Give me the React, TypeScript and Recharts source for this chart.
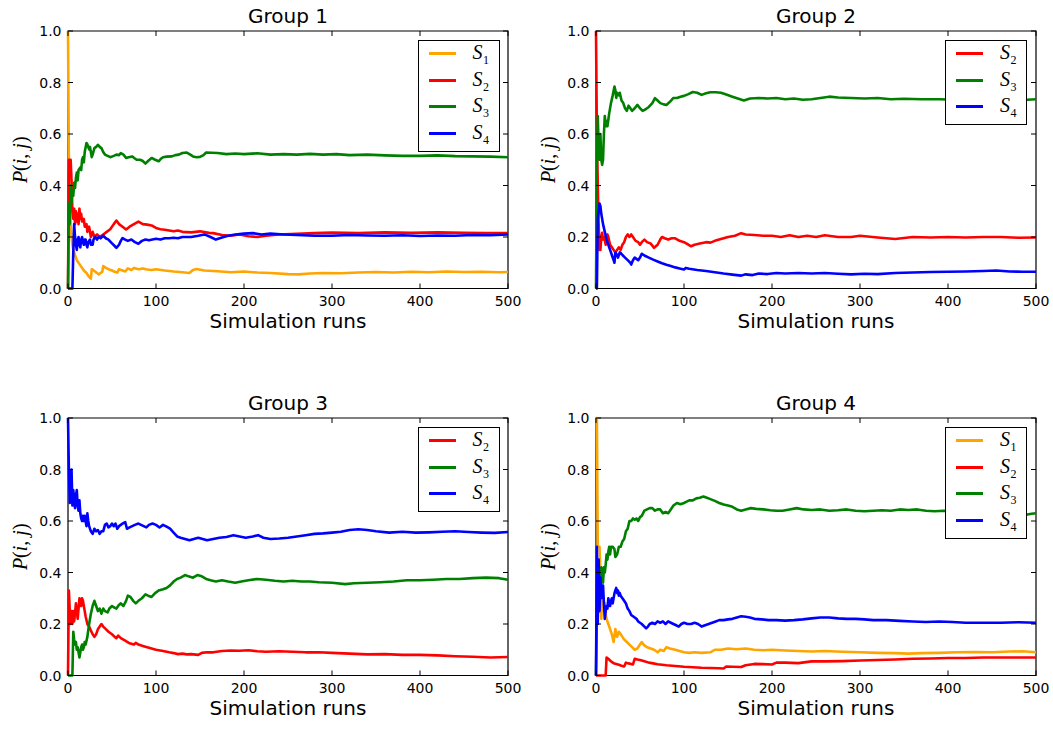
import { Label, Legend, Line, LineChart, ReferenceArea, XAxis, YAxis } from "recharts";

type Pt = [number, number];

const xTicks = [0, 100, 200, 300, 400, 500];
const yTicks = [0, 0.2, 0.4, 0.6, 0.8, 1.0];
const groupTitles = ["Group 1", "Group 2", "Group 3", "Group 4"];
const xLabel = "Simulation runs";

// Group 1
const g1S1: Pt[] = [[0,1.0],[1,0.5],[2,0.33],[3,0.25],[4,0.2],[5,0.17],[6,0.15],[8,0.13],[10,0.11],[12,0.1],[15,0.085],[18,0.07],[21,0.06],[24,0.045],[26,0.038],[27,0.075],[30,0.068],[33,0.06],[35,0.055],[37,0.06],[39,0.065],[40,0.087],[43,0.08],[46,0.075],[50,0.07],[53,0.065],[56,0.062],[58,0.075],[62,0.07],[65,0.066],[68,0.078],[72,0.072],[75,0.08],[80,0.075],[85,0.078],[90,0.074],[95,0.072],[100,0.075],[110,0.07],[120,0.066],[130,0.063],[138,0.06],[142,0.072],[146,0.076],[155,0.07],[170,0.067],[185,0.063],[200,0.066],[215,0.062],[230,0.06],[250,0.056],[262,0.055],[275,0.058],[290,0.06],[310,0.059],[330,0.062],[350,0.064],[370,0.062],[390,0.065],[410,0.063],[430,0.066],[450,0.064],[470,0.065],[490,0.063],[500,0.064]];
const g1S2: Pt[] = [[0,0],[1,0.5],[3,0.5],[4,0.42],[5,0.3],[6,0.27],[7,0.31],[8,0.25],[9,0.3],[10,0.26],[11,0.29],[12,0.25],[13,0.31],[14,0.27],[15,0.29],[16,0.26],[18,0.27],[19,0.24],[21,0.25],[22,0.22],[24,0.24],[26,0.2],[28,0.22],[30,0.2],[33,0.21],[36,0.2],[40,0.21],[44,0.22],[48,0.23],[52,0.25],[55,0.264],[58,0.25],[62,0.24],[66,0.229],[70,0.24],[75,0.25],[80,0.26],[85,0.25],[90,0.248],[95,0.245],[100,0.235],[105,0.23],[110,0.228],[115,0.225],[120,0.222],[125,0.225],[130,0.22],[140,0.218],[150,0.222],[160,0.216],[165,0.215],[175,0.208],[185,0.205],[195,0.21],[205,0.203],[215,0.2],[225,0.205],[240,0.21],[260,0.212],[280,0.215],[300,0.217],[330,0.215],[360,0.218],[390,0.216],[420,0.218],[450,0.216],[475,0.215],[500,0.215]];
const g1S3: Pt[] = [[0,0],[1,0.33],[2,0.25],[3,0.4],[4,0.33],[5,0.38],[6,0.36],[7,0.41],[8,0.39],[9,0.43],[10,0.45],[11,0.42],[12,0.46],[14,0.47],[15,0.46],[16,0.5],[17,0.51],[18,0.49],[19,0.53],[21,0.565],[22,0.56],[24,0.54],[25,0.55],[27,0.51],[28,0.52],[30,0.545],[32,0.55],[34,0.558],[36,0.55],[38,0.545],[40,0.53],[42,0.52],[45,0.515],[48,0.51],[52,0.515],[55,0.52],[58,0.518],[60,0.526],[63,0.52],[66,0.507],[69,0.51],[73,0.513],[76,0.505],[78,0.5],[82,0.5],[85,0.495],[88,0.485],[91,0.495],[95,0.507],[99,0.5],[103,0.494],[106,0.505],[108,0.51],[112,0.512],[118,0.513],[122,0.518],[126,0.52],[130,0.526],[135,0.528],[139,0.52],[142,0.513],[146,0.51],[150,0.511],[154,0.518],[157,0.528],[163,0.527],[170,0.526],[180,0.522],[190,0.524],[200,0.522],[215,0.525],[230,0.52],[245,0.522],[260,0.52],[275,0.523],[290,0.52],[305,0.522],[320,0.518],[340,0.52],[360,0.517],[380,0.515],[400,0.515],[420,0.517],[440,0.514],[460,0.513],[480,0.512],[500,0.51]];
const g1S4: Pt[] = [[0,0],[5,0],[6,0.14],[7,0.25],[8,0.2],[9,0.17],[10,0.15],[11,0.19],[12,0.2],[13,0.17],[14,0.16],[15,0.19],[16,0.2],[17,0.18],[18,0.17],[19,0.19],[20,0.19],[21,0.17],[22,0.16],[23,0.18],[25,0.19],[26,0.17],[28,0.17],[29,0.19],[31,0.2],[33,0.19],[35,0.2],[37,0.195],[40,0.205],[43,0.195],[46,0.19],[50,0.175],[53,0.165],[55,0.158],[58,0.17],[60,0.185],[62,0.196],[65,0.19],[68,0.185],[72,0.19],[76,0.18],[80,0.174],[84,0.185],[88,0.19],[92,0.187],[96,0.19],[100,0.193],[105,0.19],[110,0.195],[115,0.195],[120,0.197],[125,0.195],[130,0.2],[140,0.2],[148,0.205],[155,0.21],[162,0.2],[168,0.19],[175,0.198],[182,0.205],[190,0.21],[200,0.213],[210,0.215],[220,0.21],[230,0.213],[245,0.21],[260,0.208],[280,0.205],[300,0.205],[320,0.208],[340,0.206],[360,0.205],[380,0.207],[400,0.204],[420,0.206],[440,0.205],[460,0.208],[480,0.207],[500,0.21]];

// Group 2
const g2S2: Pt[] = [[0,1.0],[1,0.6],[2,0.4],[3,0.25],[4,0.15],[5,0.15],[6,0.2],[7,0.216],[8,0.19],[9,0.2],[10,0.19],[11,0.17],[12,0.18],[13,0.21],[14,0.2],[16,0.17],[18,0.16],[20,0.15],[22,0.14],[24,0.15],[26,0.16],[28,0.15],[30,0.17],[32,0.18],[34,0.2],[36,0.21],[38,0.2],[40,0.21],[42,0.2],[45,0.185],[48,0.18],[50,0.17],[52,0.18],[55,0.19],[58,0.18],[62,0.175],[66,0.158],[70,0.17],[73,0.19],[75,0.2],[78,0.195],[82,0.19],[86,0.195],[90,0.195],[95,0.185],[100,0.18],[104,0.172],[108,0.164],[112,0.17],[118,0.175],[125,0.18],[130,0.178],[135,0.185],[140,0.19],[150,0.2],[158,0.205],[165,0.215],[170,0.21],[180,0.208],[190,0.205],[200,0.205],[210,0.2],[220,0.207],[230,0.2],[240,0.205],[250,0.2],[260,0.207],[275,0.2],[290,0.2],[300,0.205],[320,0.198],[340,0.192],[360,0.2],[380,0.198],[400,0.2],[420,0.198],[440,0.2],[460,0.2],[480,0.197],[500,0.198]];
const g2S3: Pt[] = [[0,0],[1,0.5],[2,0.67],[3,0.55],[4,0.5],[5,0.6],[6,0.5],[7,0.48],[8,0.5],[9,0.6],[10,0.67],[11,0.63],[12,0.65],[13,0.63],[15,0.68],[17,0.72],[19,0.75],[21,0.784],[22,0.77],[23,0.74],[24,0.76],[26,0.75],[27,0.76],[29,0.73],[31,0.72],[33,0.7],[35,0.69],[37,0.71],[39,0.7],[41,0.69],[44,0.7],[47,0.713],[50,0.7],[53,0.69],[56,0.695],[60,0.705],[64,0.72],[67,0.739],[70,0.73],[73,0.72],[77,0.715],[80,0.713],[84,0.725],[88,0.74],[92,0.74],[96,0.745],[100,0.748],[105,0.755],[110,0.763],[115,0.76],[120,0.752],[125,0.758],[130,0.762],[136,0.762],[142,0.76],[148,0.753],[155,0.745],[162,0.737],[168,0.73],[175,0.738],[185,0.74],[195,0.738],[205,0.74],[215,0.735],[225,0.738],[235,0.733],[245,0.735],[255,0.74],[265,0.745],[275,0.742],[290,0.74],[305,0.738],[320,0.74],[335,0.735],[350,0.737],[370,0.735],[390,0.735],[410,0.733],[430,0.735],[450,0.733],[470,0.735],[490,0.733],[500,0.735]];
const g2S4: Pt[] = [[0,0],[1,0],[2,0.27],[3,0.3],[4,0.33],[5,0.32],[6,0.29],[8,0.25],[10,0.22],[12,0.19],[14,0.17],[16,0.15],[18,0.13],[20,0.11],[21,0.1],[22,0.14],[24,0.13],[25,0.12],[27,0.14],[28,0.138],[30,0.13],[33,0.12],[36,0.11],[39,0.1],[40,0.093],[42,0.11],[44,0.12],[46,0.115],[48,0.11],[50,0.12],[52,0.135],[55,0.128],[60,0.12],[65,0.112],[70,0.105],[75,0.098],[80,0.092],[85,0.087],[90,0.082],[95,0.078],[100,0.074],[102,0.08],[106,0.077],[115,0.072],[125,0.068],[135,0.063],[145,0.058],[155,0.054],[165,0.05],[170,0.055],[178,0.052],[185,0.058],[195,0.056],[205,0.06],[215,0.058],[230,0.06],[245,0.058],[260,0.06],[275,0.057],[290,0.055],[305,0.057],[320,0.056],[340,0.06],[360,0.062],[380,0.064],[400,0.065],[420,0.066],[440,0.068],[455,0.07],[470,0.066],[485,0.065],[500,0.065]];

// Group 3
const g3S2: Pt[] = [[0,0],[1,0.33],[2,0.25],[3,0.2],[4,0.25],[5,0.2],[6,0.25],[7,0.21],[8,0.24],[9,0.28],[10,0.25],[11,0.22],[12,0.26],[13,0.3],[14,0.28],[15,0.27],[16,0.3],[17,0.29],[18,0.27],[19,0.25],[20,0.23],[22,0.2],[24,0.19],[26,0.175],[28,0.16],[30,0.15],[32,0.16],[34,0.18],[36,0.19],[38,0.2],[40,0.19],[43,0.18],[46,0.17],[50,0.16],[53,0.15],[55,0.145],[57,0.155],[60,0.145],[65,0.135],[70,0.125],[75,0.12],[77,0.127],[80,0.12],[85,0.115],[90,0.11],[95,0.105],[100,0.1],[108,0.095],[115,0.09],[120,0.087],[125,0.083],[130,0.085],[135,0.082],[140,0.083],[148,0.08],[152,0.088],[158,0.09],[165,0.09],[175,0.095],[185,0.097],[195,0.096],[205,0.098],[215,0.094],[225,0.092],[240,0.094],[255,0.092],[270,0.09],[285,0.09],[300,0.088],[320,0.085],[340,0.082],[360,0.083],[380,0.08],[400,0.08],[420,0.078],[440,0.075],[460,0.073],[480,0.07],[500,0.072]];
const g3S3: Pt[] = [[0,0],[5,0],[6,0.17],[7,0.14],[8,0.12],[9,0.13],[10,0.1],[11,0.11],[12,0.09],[13,0.07],[14,0.09],[15,0.11],[16,0.12],[17,0.1],[18,0.11],[19,0.13],[20,0.12],[22,0.15],[24,0.2],[26,0.24],[28,0.27],[30,0.29],[32,0.27],[34,0.25],[36,0.26],[38,0.24],[40,0.26],[42,0.25],[45,0.245],[47,0.26],[50,0.27],[52,0.265],[55,0.26],[58,0.275],[60,0.28],[63,0.27],[66,0.29],[68,0.31],[71,0.305],[74,0.29],[77,0.28],[80,0.29],[84,0.3],[88,0.315],[91,0.31],[95,0.305],[99,0.32],[103,0.33],[108,0.335],[112,0.34],[116,0.35],[120,0.365],[124,0.375],[128,0.38],[133,0.39],[137,0.385],[142,0.38],[147,0.39],[152,0.385],[157,0.375],[162,0.37],[168,0.365],[175,0.37],[182,0.365],[190,0.36],[197,0.365],[205,0.37],[215,0.375],[225,0.372],[235,0.368],[245,0.365],[255,0.368],[265,0.365],[275,0.365],[285,0.362],[300,0.36],[315,0.355],[325,0.358],[340,0.36],[355,0.362],[370,0.365],[385,0.37],[400,0.37],[415,0.372],[430,0.375],[445,0.375],[460,0.378],[475,0.38],[490,0.378],[500,0.372]];
const g3S4: Pt[] = [[0,1.0],[1,0.8],[2,0.67],[3,0.75],[4,0.8],[5,0.66],[6,0.72],[7,0.68],[8,0.65],[9,0.7],[10,0.72],[11,0.66],[12,0.64],[13,0.68],[14,0.63],[15,0.61],[16,0.6],[17,0.62],[18,0.6],[19,0.62],[20,0.6],[21,0.58],[22,0.63],[23,0.6],[24,0.58],[26,0.56],[28,0.55],[30,0.57],[32,0.56],[34,0.565],[36,0.55],[38,0.56],[40,0.56],[42,0.585],[44,0.59],[46,0.575],[48,0.58],[50,0.59],[52,0.58],[54,0.59],[56,0.57],[58,0.58],[60,0.585],[62,0.59],[65,0.596],[67,0.57],[70,0.575],[73,0.58],[76,0.585],[80,0.59],[83,0.585],[86,0.58],[89,0.575],[92,0.585],[96,0.59],[100,0.585],[104,0.575],[108,0.585],[112,0.578],[116,0.57],[120,0.555],[124,0.54],[128,0.535],[133,0.53],[138,0.525],[143,0.53],[148,0.535],[153,0.53],[158,0.525],[165,0.53],[172,0.535],[180,0.538],[188,0.545],[195,0.54],[202,0.535],[210,0.54],[216,0.545],[222,0.535],[230,0.53],[240,0.532],[250,0.535],[260,0.54],[270,0.545],[280,0.55],[290,0.552],[300,0.555],[310,0.558],[320,0.565],[330,0.568],[340,0.565],[350,0.56],[365,0.555],[380,0.558],[395,0.555],[410,0.556],[425,0.558],[440,0.56],[455,0.557],[470,0.555],[485,0.554],[500,0.557]];

// Group 4
const g4S1: Pt[] = [[0,1.0],[1,1.0],[2,0.5],[4,0.5],[5,0.4],[6,0.22],[7,0.3],[8,0.27],[9,0.25],[10,0.28],[11,0.24],[12,0.22],[14,0.2],[16,0.18],[18,0.16],[20,0.13],[22,0.18],[24,0.15],[26,0.17],[28,0.16],[30,0.15],[32,0.14],[35,0.13],[38,0.12],[41,0.11],[44,0.1],[47,0.105],[50,0.12],[52,0.13],[54,0.12],[58,0.11],[62,0.105],[66,0.1],[70,0.09],[73,0.1],[77,0.095],[80,0.11],[84,0.105],[90,0.1],[95,0.095],[100,0.09],[106,0.088],[112,0.09],[120,0.088],[130,0.09],[135,0.1],[142,0.1],[150,0.105],[160,0.102],[170,0.105],[180,0.1],[190,0.098],[200,0.1],[215,0.097],[230,0.095],[245,0.093],[260,0.095],[280,0.092],[300,0.09],[320,0.088],[340,0.087],[355,0.085],[370,0.087],[390,0.088],[410,0.09],[430,0.091],[450,0.09],[470,0.093],[485,0.094],[500,0.09]];
const g4S2: Pt[] = [[0,0],[11,0],[12,0.07],[14,0.065],[17,0.055],[20,0.048],[23,0.045],[26,0.042],[29,0.038],[32,0.035],[34,0.05],[37,0.047],[40,0.045],[42,0.043],[44,0.065],[47,0.062],[50,0.06],[55,0.055],[60,0.05],[65,0.047],[70,0.044],[80,0.04],[90,0.037],[100,0.034],[110,0.032],[120,0.03],[130,0.029],[140,0.028],[145,0.027],[148,0.035],[155,0.034],[165,0.033],[170,0.04],[180,0.045],[190,0.044],[200,0.043],[205,0.05],[215,0.05],[230,0.048],[245,0.055],[260,0.055],[280,0.056],[300,0.058],[320,0.06],[340,0.062],[360,0.065],[380,0.066],[400,0.068],[420,0.068],[440,0.07],[460,0.07],[480,0.07],[500,0.07]];
const g4S3: Pt[] = [[0,0],[1,0.25],[2,0.4],[3,0.33],[4,0.3],[5,0.4],[6,0.42],[7,0.38],[8,0.36],[9,0.42],[10,0.4],[11,0.43],[12,0.47],[13,0.45],[14,0.48],[15,0.5],[16,0.47],[17,0.5],[19,0.5],[21,0.49],[22,0.46],[24,0.47],[26,0.5],[28,0.5],[30,0.52],[32,0.53],[34,0.56],[36,0.57],[38,0.6],[40,0.6],[42,0.61],[44,0.605],[46,0.61],[48,0.6],[50,0.615],[52,0.62],[55,0.64],[58,0.645],[61,0.65],[64,0.65],[67,0.64],[70,0.645],[73,0.645],[76,0.63],[79,0.635],[82,0.63],[85,0.645],[88,0.66],[92,0.67],[96,0.665],[100,0.67],[103,0.675],[106,0.68],[110,0.68],[114,0.688],[118,0.69],[122,0.695],[126,0.69],[130,0.685],[135,0.678],[140,0.67],[145,0.664],[150,0.66],[155,0.655],[160,0.645],[165,0.64],[170,0.645],[176,0.65],[182,0.647],[190,0.645],[198,0.642],[205,0.64],[212,0.64],[220,0.645],[228,0.65],[236,0.645],[245,0.643],[255,0.645],[265,0.64],[275,0.642],[285,0.645],[295,0.64],[305,0.638],[315,0.64],[325,0.642],[335,0.64],[345,0.645],[355,0.643],[365,0.645],[375,0.64],[385,0.638],[395,0.64],[410,0.638],[430,0.636],[450,0.635],[465,0.63],[478,0.62],[485,0.618],[490,0.625],[495,0.628],[500,0.63]];
const g4S4: Pt[] = [[0,0],[1,0.5],[2,0.2],[3,0.45],[4,0.25],[5,0.38],[6,0.3],[7,0.34],[8,0.35],[9,0.28],[10,0.22],[11,0.25],[12,0.27],[13,0.26],[14,0.3],[15,0.28],[16,0.27],[17,0.29],[18,0.3],[19,0.28],[20,0.3],[21,0.32],[22,0.33],[23,0.34],[24,0.32],[25,0.33],[26,0.31],[27,0.32],[28,0.31],[30,0.3],[32,0.29],[34,0.28],[36,0.26],[38,0.25],[40,0.235],[42,0.23],[44,0.225],[46,0.22],[48,0.21],[50,0.205],[52,0.2],[55,0.19],[57,0.183],[59,0.19],[61,0.2],[64,0.205],[67,0.2],[70,0.21],[73,0.205],[76,0.21],[79,0.2],[82,0.21],[85,0.205],[88,0.2],[91,0.195],[94,0.19],[97,0.2],[100,0.205],[104,0.2],[108,0.2],[112,0.205],[116,0.2],[120,0.19],[124,0.195],[128,0.2],[132,0.205],[136,0.21],[140,0.215],[145,0.215],[150,0.218],[155,0.22],[160,0.225],[165,0.23],[170,0.228],[175,0.225],[180,0.22],[188,0.218],[196,0.215],[205,0.215],[215,0.213],[225,0.215],[235,0.218],[245,0.222],[255,0.225],[265,0.225],[275,0.222],[285,0.22],[295,0.22],[305,0.218],[315,0.215],[330,0.215],[345,0.212],[360,0.21],[375,0.208],[390,0.21],[405,0.208],[420,0.205],[440,0.205],[460,0.205],[480,0.207],[500,0.205]];

const COLORS: Record<string, string> = {
  S1: "#ffa500",
  S2: "#ff0000",
  S3: "#008000",
  S4: "#0000ff",
};

// layout of one subplot (chart coords)
const CHART_W = 527;
const CHART_H = 340;
const PLOT_LEFT = 68;
const PLOT_TOP = 31;
const PLOT_W = 440;
const PLOT_H = 257.5;
const AXIS_SIZE = 1; // axes with 0 size are not drawn at all
const TICK_LEN = 5;
const SANS = "DejaVu Sans";
const SERIF = "Liberation Serif";

type Series = { name: string; points: Pt[] };

const panels: { title: string; left: number; top: number; series: Series[] }[] = [
  {
    title: groupTitles[0], left: 0, top: 0,
    series: [{ name: "S1", points: g1S1 }, { name: "S2", points: g1S2 }, { name: "S3", points: g1S3 }, { name: "S4", points: g1S4 }],
  },
  {
    title: groupTitles[1], left: 527.5, top: 0,
    series: [{ name: "S2", points: g2S2 }, { name: "S3", points: g2S3 }, { name: "S4", points: g2S4 }],
  },
  {
    title: groupTitles[2], left: 0, top: 387,
    series: [{ name: "S2", points: g3S2 }, { name: "S3", points: g3S3 }, { name: "S4", points: g3S4 }],
  },
  {
    title: groupTitles[3], left: 527.5, top: 387,
    series: [{ name: "S1", points: g4S1 }, { name: "S2", points: g4S2 }, { name: "S3", points: g4S3 }, { name: "S4", points: g4S4 }],
  },
];

function XTick(props: any) {
  const { x, payload } = props;
  const bottom = PLOT_TOP + PLOT_H;
  return (
    <g>
      <line x1={x} x2={x} y1={bottom} y2={bottom - TICK_LEN} stroke="#000" strokeWidth={1} />
      <line x1={x} x2={x} y1={PLOT_TOP} y2={PLOT_TOP + TICK_LEN} stroke="#000" strokeWidth={1} />
      <text x={x} y={bottom + 17.5} textAnchor="middle" fontSize={14} fontFamily={SANS} fill="#000">
        {payload.value}
      </text>
    </g>
  );
}

function YTick(props: any) {
  const { y, payload } = props;
  const right = PLOT_LEFT + PLOT_W;
  return (
    <g>
      <line x1={PLOT_LEFT} x2={PLOT_LEFT + TICK_LEN} y1={y} y2={y} stroke="#000" strokeWidth={1} />
      <line x1={right} x2={right - TICK_LEN} y1={y} y2={y} stroke="#000" strokeWidth={1} />
      <text x={PLOT_LEFT - 6.5} y={y + 5} textAnchor="end" fontSize={14} fontFamily={SANS} fill="#000">
        {Number(payload.value).toFixed(1)}
      </text>
    </g>
  );
}

function YLabel() {
  const cx = 27;
  const cy = PLOT_TOP + PLOT_H / 2;
  return (
    <text
      x={cx}
      y={cy}
      transform={`rotate(-90 ${cx} ${cy})`}
      textAnchor="middle"
      fontSize={20}
      fontFamily={SERIF}
      fill="#000"
    >
      <tspan fontStyle="italic">P</tspan>
      <tspan>(</tspan>
      <tspan fontStyle="italic">i</tspan>
      <tspan>, </tspan>
      <tspan fontStyle="italic">j</tspan>
      <tspan>)</tspan>
    </text>
  );
}

function LegendBox(props: any) {
  const payload: any[] = props.payload || [];
  return (
    <div
      style={{
        width: 82,
        boxSizing: "border-box",
        border: "1.3px solid #000",
        background: "#fff",
        padding: "0 0 4px 0",
      }}
    >
      {payload.map((p) => (
        <div key={p.value} style={{ height: 26.5, display: "flex", alignItems: "center" }}>
          <span style={{ marginLeft: 10, width: 27, height: 2.6, background: p.color, display: "inline-block" }} />
          <span
            style={{
              marginLeft: 17,
              fontFamily: SERIF,
              fontStyle: "italic",
              fontSize: 20,
              lineHeight: "20px",
              color: "#000",
            }}
          >
            S
            <span style={{ fontStyle: "normal", fontSize: 12, position: "relative", top: 5, marginLeft: 0.5 }}>
              {String(p.value).slice(1)}
            </span>
          </span>
        </div>
      ))}
    </div>
  );
}

function Panel({ title, series }: { title: string; series: Series[] }) {
  return (
    <LineChart
      width={CHART_W}
      height={CHART_H}
      margin={{
        top: PLOT_TOP,
        left: PLOT_LEFT - AXIS_SIZE,
        right: CHART_W - PLOT_LEFT - PLOT_W,
        bottom: CHART_H - PLOT_TOP - PLOT_H - AXIS_SIZE,
      }}
    >
      <XAxis
        dataKey="x"
        type="number"
        domain={[0, 500]}
        ticks={xTicks}
        interval={0}
        height={AXIS_SIZE}
        tickSize={0}
        tickMargin={0}
        axisLine={false}
        tickLine={false}
        tick={<XTick />}
      >
        <Label
          content={() => (
            <text x={PLOT_LEFT + PLOT_W / 2} y={PLOT_TOP + PLOT_H + 39} textAnchor="middle" fontSize={20} fontFamily={SANS} fill="#000">
              {xLabel}
            </text>
          )}
        />
        <Label
          content={() => (
            <text x={PLOT_LEFT + PLOT_W / 2} y={PLOT_TOP - 8} textAnchor="middle" fontSize={20} fontFamily={SANS} fill="#000">
              {title}
            </text>
          )}
        />
      </XAxis>
      <YAxis
        type="number"
        domain={[0, 1]}
        ticks={yTicks}
        interval={0}
        width={AXIS_SIZE}
        tickSize={0}
        tickMargin={0}
        axisLine={false}
        tickLine={false}
        tick={<YTick />}
      >
        <Label content={() => <YLabel />} />
      </YAxis>
      {series.map((s) => (
        <Line
          key={s.name}
          name={s.name}
          type="linear"
          data={s.points.map(([x, y]) => ({ x, y }))}
          dataKey="y"
          stroke={COLORS[s.name]}
          strokeWidth={2.6}
          strokeLinejoin="round"
          dot={false}
          activeDot={false}
          isAnimationActive={false}
        />
      ))}
      <ReferenceArea x1={0} x2={500} y1={0} y2={1} fill="none" fillOpacity={0} stroke="#000" strokeWidth={1.2} />
      <Legend
        layout="horizontal"
        verticalAlign="middle"
        align="center"
        content={<LegendBox />}
        wrapperStyle={{ left: 417.5, top: 39.5, width: 82, height: "auto" }}
      />
    </LineChart>
  );
}

export default function App() {
  return (
    <div style={{ position: "absolute", left: 0, top: 0, width: 1053, height: 730, background: "#fff" }}>
      {panels.map((p) => (
        <div key={p.title} style={{ position: "absolute", left: p.left, top: p.top }}>
          <Panel title={p.title} series={p.series} />
        </div>
      ))}
    </div>
  );
}
